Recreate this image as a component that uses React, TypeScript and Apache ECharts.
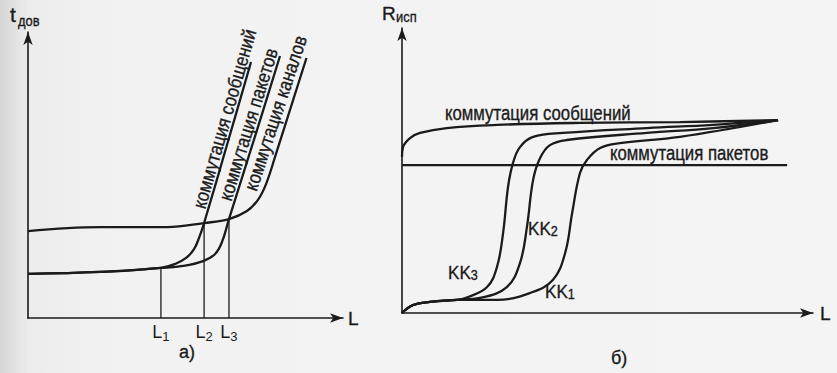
import React, { useEffect, useRef } from "react";
import * as echarts from "echarts";

// ---- Panel a: t_дов vs L ----
const msgA: number[][] = [
  [0, 15.4], [22.9, 16.1], [42.2, 17.5], [46.7, 18.9], [50.2, 21.0], [52.7, 24.1],
  [54.3, 28.0], [55.9, 33.2], [63.3, 61.0], [70.8, 89.5],
];
const pktA: number[][] = [
  [0, 15.4], [22.9, 16.1], [42.2, 17.5], [49.2, 18.2], [55.6, 19.9], [59.4, 22.4],
  [61.6, 26.6], [63.8, 34.6], [72.1, 63.6], [80.0, 91.6],
];
const chnA: number[][] = [
  [0, 30.4], [22.9, 31.8], [44.1, 31.8], [55.9, 33.2], [63.8, 34.6], [69.5, 37.4],
  [73.0, 41.3], [75.6, 46.9], [78.7, 57.3], [88.4, 90.9],
];
const Lvalues = [42.2, 55.9, 63.8];
const LyTops = [17.5, 33.2, 34.6];
const Lsubs = ["1", "2", "3"];

// ---- Panel b: R_исп vs L ----
const msgB: number[][] = [
  [0, 54.7], [0.24, 58.2], [1.95, 61.4], [4.4, 63.2], [10.9, 64.9], [23.1, 66.0],
  [43.3, 66.7], [67.6, 67.0], [91.5, 67.7],
];
const pktB: number[][] = [[0, 51.9], [93.7, 51.9]];
const kk3: number[][] = [
  [0, 0], [2.7, 2.8], [6.8, 3.9], [13.4, 4.6], [16.1, 5.6], [20.7, 9.1], [23.1, 16.1],
  [24.6, 28.1], [25.8, 44.2], [27.0, 52.6], [28.7, 58.2], [31.9, 61.8], [39.2, 63.2],
  [59.6, 64.9], [75.7, 66.0], [91.5, 67.7],
];
const kk2: number[][] = [
  [0, 0], [2.7, 2.8], [6.8, 3.9], [13.4, 4.6], [19.0, 5.3], [25.5, 9.1], [28.7, 17.5],
  [30.4, 30.2], [31.9, 46.7], [33.6, 54.4], [36.0, 58.9], [40.1, 60.7], [59.6, 63.2],
  [75.7, 64.9], [91.5, 67.7],
];
const kk1: number[][] = [
  [0, 0], [2.7, 2.8], [6.8, 3.9], [13.4, 4.6], [23.1, 4.6], [31.1, 7.0], [36.7, 11.6],
  [39.7, 21.1], [41.4, 35.1], [43.3, 49.1], [45.0, 53.7], [48.2, 57.9], [53.0, 59.6],
  [67.6, 61.8], [91.5, 67.7],
];

const INK = "#1b1b1b";
const FONT = "'Liberation Sans Narrow', 'Liberation Sans', Arial, sans-serif";

function curve(name: string, data: number[][], idx: number, width = 2.3) {
  return {
    type: "line",
    name,
    data,
    xAxisIndex: idx,
    yAxisIndex: idx,
    smooth: 0.4,
    showSymbol: false,
    symbol: "none",
    lineStyle: { color: INK, width },
    silent: true,
  };
}

function axisCommon(extra: any = {}) {
  return {
    type: "value",
    min: 0,
    max: 100,
    splitLine: { show: false },
    axisTick: { show: false },
    axisLabel: { show: false },
    axisLine: {
      show: true,
      onZero: false,
      symbol: ["none", "arrow"],
      symbolSize: [7, 13],
      lineStyle: { color: INK, width: 1.6 },
    },
    ...extra,
  };
}

export default function App() {
  const ref = useRef<HTMLDivElement>(null);
  useEffect(() => {
    if (!ref.current) return;
    const chart = echarts.init(ref.current, null, { renderer: "svg" });
    const deg = (d: number) => (d * Math.PI) / 180;
    const SX = 0.86;
    const rotText = (text: string, x: number, y: number, a: number) => ({
      type: "text",
      x,
      y,
      rotation: deg(a),
      scaleX: SX,
      style: {
        text,
        fill: INK,
        stroke: INK,
        lineWidth: 0.35,
        fontSize: 19.5,
        fontFamily: FONT,
        textAlign: "left",
        textVerticalAlign: "middle",
      },
    });
    const hText = (text: string, x: number, y: number, size = 19.5, rich?: any, sx = SX) => ({
      type: "text",
      x,
      y,
      scaleX: sx,
      style: {
        text,
        fill: INK,
        stroke: INK,
        lineWidth: 0.35,
        fontSize: size,
        fontFamily: FONT,
        textAlign: "left",
        textVerticalAlign: "middle",
        rich,
      },
    });
    const kkRich = {
      s: { fontSize: 14, fontFamily: FONT, fill: INK, verticalAlign: "bottom", lineHeight: 12 },
    };
    const vLines = Lvalues.map((v, i) => ({
      ...curve("L" + Lsubs[i], [[v, 0], [v, LyTops[i]]], 0, 1.3),
      smooth: false,
    }));
    chart.setOption({
      animation: false,
      backgroundColor: "transparent",
      grid: [
        { left: 28, top: 32, width: 315, height: 286 },
        { left: 402, top: 28, width: 411, height: 285 },
      ],
      xAxis: [
        axisCommon({
          gridIndex: 0,
          axisLabel: {
            show: true,
            customValues: Lvalues,
            margin: 3,
            color: INK,
            fontSize: 18,
            fontFamily: FONT,
            lineHeight: 22,
            formatter: (v: number) => {
              const i = Lvalues.indexOf(v);
              return "L{s|" + (i >= 0 ? Lsubs[i] : "") + "}";
            },
            rich: {
              s: { fontSize: 13, fontFamily: FONT, color: INK, verticalAlign: "bottom", lineHeight: 13 },
            },
          },
        }),
        axisCommon({ gridIndex: 1 }),
      ],
      yAxis: [axisCommon({ gridIndex: 0 }), axisCommon({ gridIndex: 1 })],
      series: [
        curve("коммутация сообщений", msgA, 0),
        curve("коммутация пакетов", pktA, 0),
        curve("коммутация каналов", chnA, 0),
        ...vLines,
        curve("коммутация сообщений", msgB, 1),
        { ...curve("коммутация пакетов", pktB, 1), smooth: false },
        curve("KK3", kk3, 1),
        curve("KK2", kk2, 1),
        curve("KK1", kk1, 1),
      ],
      graphic: [
        hText("t", 10, 14, 21, undefined, 1),
        hText("дов", 18, 21, 15),
        hText("L", 348, 318, 19, undefined, 1),
        hText("а)", 179, 352, 18, undefined, 1),
        rotText("коммутация сообщений", 199, 208, 73.9),
        rotText("коммутация пакетов", 225, 200, 72.7),
        rotText("коммутация каналов", 250.5, 190, 71.8),
        hText("R", 382, 13, 19, undefined, 1),
        hText("исп", 396, 17, 15),
        hText("L", 820, 313, 19, undefined, 1),
        hText("б)", 611, 358, 18, undefined, 1),
        hText("коммутация сообщений", 445, 114),
        hText("коммутация пакетов", 610, 154),
        hText("KK{s|2}", 528, 229, 19, kkRich, 0.9),
        hText("KK{s|3}", 448, 273, 19, kkRich, 0.9),
        hText("KK{s|1}", 545, 292, 19, kkRich, 0.9),
      ],
    });
    return () => chart.dispose();
  }, []);
  return (
    <div
      ref={ref}
      style={{
        position: "fixed",
        left: 0,
        top: 0,
        width: 837,
        height: 373,
        background: "linear-gradient(to right, #d6d6d6 0px, #ececec 28px, #f2f2f2 120px, #f4f4f4 100%)",
      }}
    />
  );
}
